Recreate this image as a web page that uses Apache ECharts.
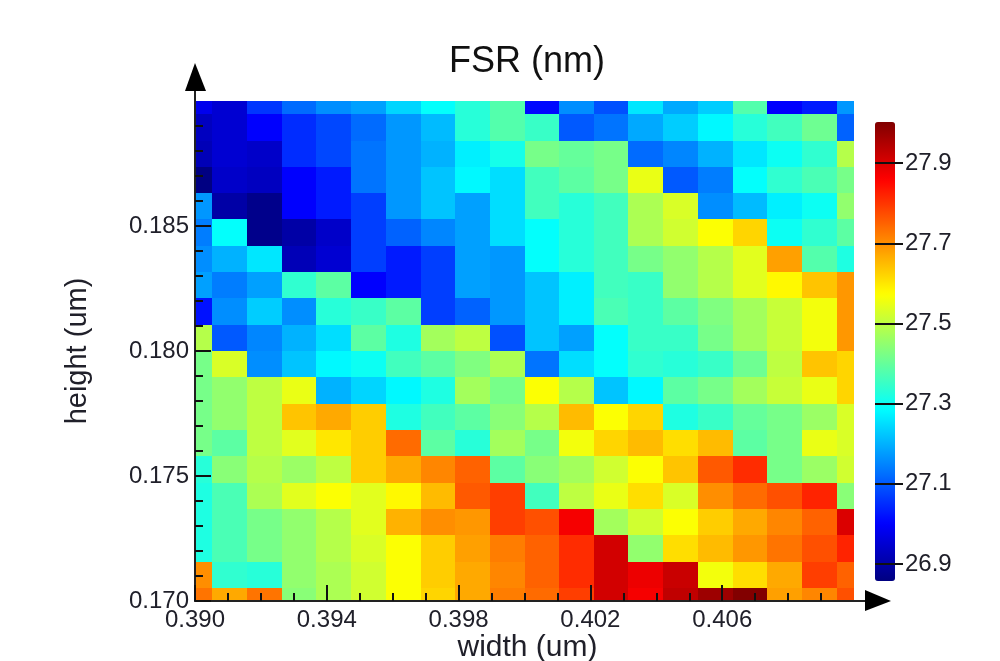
<!DOCTYPE html>
<html><head><meta charset="utf-8">
<style>html,body{margin:0;padding:0;background:#fff}#c{width:1000px;height:661px}</style>
<script src="https://cdn.jsdelivr.net/npm/echarts@6/dist/echarts.min.js"></script>
</head><body><div id="c"></div>
<script>
const widths = [0.39000,0.39105,0.39211,0.39316,0.39421,0.39526,0.39632,0.39737,0.39842,0.39947,0.40053,0.40158,0.40263,0.40368,0.40474,0.40579,0.40684,0.40789,0.40895,0.41000];
const heights = [0.19000,0.18895,0.18789,0.18684,0.18579,0.18474,0.18368,0.18263,0.18158,0.18053,0.17947,0.17842,0.17737,0.17632,0.17526,0.17421,0.17316,0.17211,0.17105,0.17000];
const fsr = [
[26.98,26.95,27.06,27.12,27.16,27.18,27.24,27.29,27.33,27.38,27.01,27.16,27.09,27.26,27.19,27.23,27.38,27.00,27.03,27.17],
[26.93,26.95,27.00,27.05,27.08,27.12,27.17,27.21,27.33,27.38,27.35,27.10,27.13,27.19,27.23,27.28,27.33,27.36,27.41,27.11],
[26.92,26.95,26.94,27.05,27.08,27.13,27.17,27.20,27.27,27.31,27.42,27.40,27.42,27.12,27.15,27.20,27.26,27.30,27.34,27.49],
[26.86,26.94,26.93,27.00,27.03,27.13,27.17,27.22,27.28,27.25,27.36,27.39,27.42,27.55,27.10,27.14,27.29,27.34,27.37,27.42],
[27.17,26.90,26.87,27.00,27.03,27.07,27.17,27.22,27.18,27.25,27.36,27.33,27.36,27.48,27.53,27.16,27.21,27.27,27.30,27.45],
[27.14,27.29,26.87,26.90,26.94,27.07,27.11,27.15,27.18,27.25,27.29,27.33,27.36,27.48,27.52,27.57,27.62,27.30,27.34,27.39],
[27.16,27.20,27.26,26.92,26.95,27.07,27.03,27.07,27.18,27.17,27.29,27.33,27.36,27.42,27.45,27.49,27.54,27.68,27.38,27.32],
[27.18,27.14,27.18,27.34,27.39,27.00,27.03,27.07,27.18,27.17,27.22,27.27,27.36,27.35,27.45,27.49,27.54,27.58,27.64,27.69],
[27.02,27.16,27.23,27.16,27.33,27.35,27.39,27.07,27.11,27.17,27.22,27.27,27.37,27.35,27.39,27.43,27.47,27.51,27.56,27.69],
[27.49,27.10,27.15,27.20,27.25,27.39,27.32,27.47,27.50,27.09,27.22,27.18,27.29,27.35,27.35,27.42,27.47,27.51,27.56,27.69],
[27.42,27.53,27.16,27.22,27.28,27.30,27.36,27.39,27.43,27.48,27.13,27.25,27.29,27.34,27.33,27.35,27.41,27.50,27.64,27.62],
[27.42,27.45,27.50,27.55,27.20,27.24,27.28,27.32,27.47,27.42,27.57,27.49,27.22,27.28,27.39,27.42,27.47,27.51,27.55,27.62],
[27.42,27.45,27.50,27.64,27.67,27.63,27.32,27.36,27.39,27.44,27.49,27.65,27.57,27.62,27.32,27.35,27.40,27.42,27.46,27.53],
[27.42,27.39,27.50,27.54,27.60,27.63,27.74,27.39,27.33,27.47,27.42,27.56,27.62,27.65,27.61,27.65,27.39,27.42,27.55,27.53],
[27.33,27.44,27.49,27.46,27.50,27.63,27.67,27.71,27.75,27.39,27.44,27.47,27.52,27.57,27.64,27.76,27.81,27.42,27.46,27.52],
[27.32,27.37,27.48,27.54,27.57,27.54,27.58,27.65,27.76,27.79,27.36,27.50,27.55,27.61,27.53,27.70,27.74,27.77,27.82,27.44],
[27.32,27.37,27.42,27.45,27.49,27.54,27.66,27.70,27.69,27.79,27.77,27.87,27.47,27.52,27.57,27.63,27.67,27.71,27.75,27.90],
[27.32,27.37,27.42,27.45,27.49,27.53,27.57,27.63,27.68,27.72,27.75,27.81,27.91,27.45,27.61,27.65,27.69,27.73,27.77,27.82],
[27.70,27.34,27.33,27.45,27.48,27.52,27.57,27.63,27.67,27.71,27.75,27.81,27.91,27.88,27.92,27.56,27.61,27.67,27.79,27.75],
[27.73,27.67,27.73,27.44,27.48,27.52,27.57,27.62,27.67,27.72,27.74,27.79,27.91,27.87,27.93,27.97,28.00,27.68,27.71,27.77]
];
const xTicks = [0.390,0.394,0.398,0.402,0.406];
const yTicks = [0.170,0.175,0.180,0.185];
const barTicks = [26.9,27.1,27.3,27.5,27.7,27.9];
const jet = ['#000080','#0000ff','#0080ff','#00ffff','#80ff80','#ffff00','#ff8000','#ff0000','#800000'];

const cells = [];
fsr.forEach((row, r) => row.forEach((v, c) => cells.push([widths[c], heights[r], v, c, r])));
const edge = (list, i) => i <= 0 ? list[0] : i >= list.length ? list[list.length - 1] : (list[i - 1] + list[i]) / 2;
const font = '"Liberation Sans", Arial, sans-serif', ink = '#20202a';

const chart = echarts.init(document.getElementById('c'), null, {renderer: 'canvas'});
chart.setOption({
  animation: false,
  backgroundColor: '#fff',
  title: {text: 'FSR (nm)', left: 522, top: 39, textAlign: 'center',
    textStyle: {fontFamily: font, fontSize: 36, fontWeight: 'normal', color: '#111'}},
  grid: [
    {left: 195, top: 101, width: 659, height: 500, outerBoundsMode: 'none'},
    {left: 875, top: 122, width: 20, height: 459, outerBoundsMode: 'none'}
  ],
  xAxis: [{
    gridIndex: 0, type: 'value', min: 0.39, max: 0.41, interval: 0.004, z: 10,
    name: 'width (um)', nameLocation: 'middle', nameGap: 32, nameMoveOverlap: false,
    nameTextStyle: {fontFamily: font, fontSize: 30, color: ink, padding: [0, 0, 0, 6]},
    axisLine: {lineStyle: {color: '#222', width: 2}},
    axisTick: {inside: true, length: 16, customValues: xTicks, lineStyle: {color: '#111', width: 2}},
    minorTick: {show: true, splitNumber: 4, length: 8, lineStyle: {color: '#111', width: 2}},
    splitLine: {show: false},
    axisLabel: {customValues: xTicks, margin: 7, fontFamily: font, fontSize: 24, color: ink, formatter: v => v.toFixed(3)}
  }, {gridIndex: 1, type: 'value', min: 0, max: 1, show: false}],
  yAxis: [{
    gridIndex: 0, type: 'value', min: 0.17, max: 0.19, interval: 0.005, z: 10,
    name: 'height (um)', nameLocation: 'middle', nameGap: 103, nameRotate: 90, nameMoveOverlap: false,
    nameTextStyle: {fontFamily: font, fontSize: 29, color: ink},
    axisLine: {lineStyle: {color: '#222', width: 2}},
    axisTick: {inside: true, length: 16, customValues: yTicks, lineStyle: {color: '#111', width: 2}},
    minorTick: {show: true, splitNumber: 5, length: 8, lineStyle: {color: '#111', width: 2}},
    splitLine: {show: false},
    axisLabel: {customValues: yTicks, margin: 6, fontFamily: font, fontSize: 24, color: ink, formatter: v => v.toFixed(3)}
  }, {
    gridIndex: 1, type: 'value', min: 26.8575, max: 28.0025, position: 'left', z: 10,
    axisLine: {show: false},
    splitLine: {show: false},
    axisTick: {inside: true, length: 28, customValues: barTicks, lineStyle: {color: '#111', width: 2}},
    axisLabel: {inside: true, customValues: barTicks, margin: 30, fontFamily: font, fontSize: 24, color: ink, formatter: v => v.toFixed(1)}
  }],
  visualMap: {
    type: 'continuous', seriesIndex: 0, dimension: 2, min: 26.8575, max: 28.0025,
    left: 875, top: 122, itemWidth: 20, itemHeight: 459, padding: 0,
    calculable: false, realtime: false, showLabel: false, text: null, hoverLink: false,
    inRange: {color: jet}
  },
  series: [{
    type: 'custom', coordinateSystem: 'cartesian2d', xAxisIndex: 0, yAxisIndex: 0, clip: true,
    encode: {x: 0, y: 1},
    data: cells,
    renderItem(params, api) {
      const c = api.value(3), r = api.value(4);
      const a = api.coord([edge(widths, c), edge(heights, r)]);
      const b = api.coord([edge(widths, c + 1), edge(heights, r + 1)]);
      const x0 = Math.round(a[0]), y0 = Math.round(a[1]), x1 = Math.round(b[0]), y1 = Math.round(b[1]);
      return {type: 'rect', shape: {x: x0, y: y0, width: x1 - x0, height: y1 - y0}, style: {fill: api.visual('color')}};
    }
  }],
  graphic: [
    {type: 'line', z: 20, shape: {x1: 195, y1: 101, x2: 195, y2: 85}, style: {stroke: '#222', lineWidth: 2}},
    {type: 'polygon', z: 20, shape: {points: [[195, 63], [206, 91], [185, 91]]}, style: {fill: '#000'}},
    {type: 'line', z: 20, shape: {x1: 854, y1: 601, x2: 870, y2: 601}, style: {stroke: '#222', lineWidth: 2}},
    {type: 'polygon', z: 20, shape: {points: [[891, 601], [865, 590], [865, 611]]}, style: {fill: '#000'}}
  ]
});
</script></body></html>
